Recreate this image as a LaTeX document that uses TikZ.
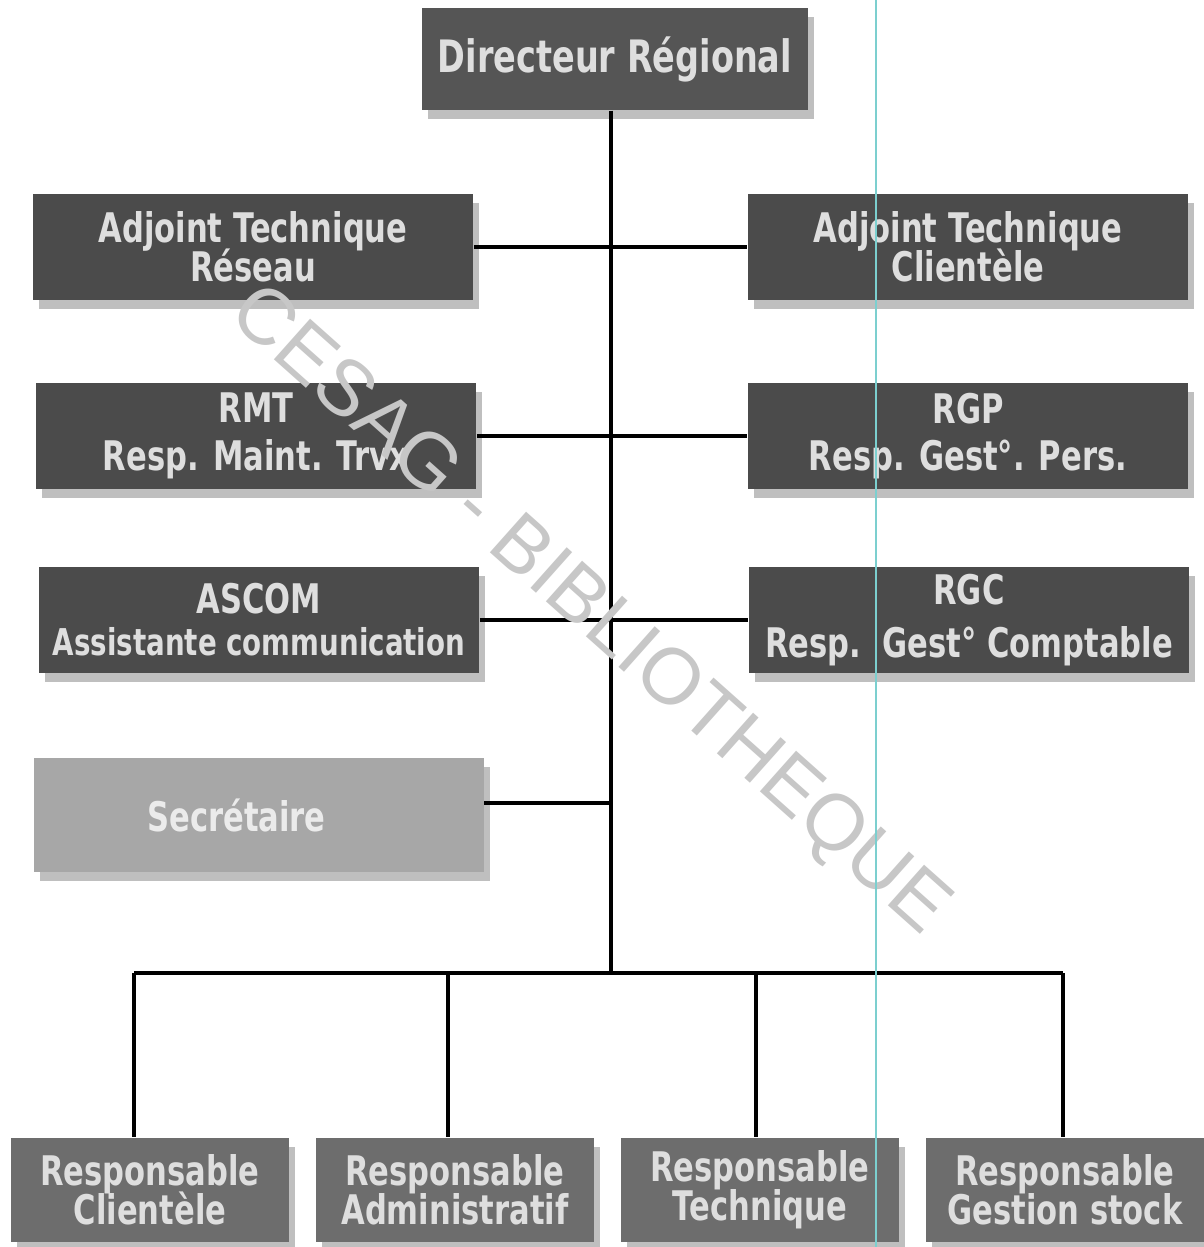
\documentclass[tikz,border=0pt]{standalone}
\usepackage{fontspec}
\usepackage{tikz}
\usetikzlibrary{shadows, calc}
\newfontfamily\boxfont{DejaVu Sans}[FakeStretch=0.75]
\newfontfamily\markfont{Liberation Sans}
\definecolor{boxdark}{HTML}{4B4B4B}
\definecolor{dirgray}{HTML}{555555}
\definecolor{unitgray}{HTML}{6D6D6D}
\definecolor{secgray}{HTML}{A7A7A7}
\definecolor{boxtext}{HTML}{DEDEDE}
\definecolor{scanline}{HTML}{7CCFCF}

\begin{document}
\begin{tikzpicture}[
    x=0.01cm, y=-0.01cm,
    post/.style={rectangle, fill=boxdark, text=boxtext, inner sep=0pt,
                 font=\boxfont\bfseries\fontsize{11.6}{12}\selectfont, align=center,
                 minimum width=4.4cm, minimum height=1.05cm,
                 drop shadow={shadow xshift=0.6mm, shadow yshift=-0.9mm, fill=black!45, opacity=0.55}},
    head/.style={post, fill=dirgray, minimum width=3.85cm, minimum height=1.02cm,
                 font=\boxfont\bfseries\fontsize{12.7}{13}\selectfont},
    aide/.style={post, fill=secgray, text=white!92!black, minimum width=4.49cm, minimum height=1.13cm},
    unit/.style={post, fill=unitgray, minimum width=2.77cm, minimum height=1.04cm},
    link/.style={black, line width=0.9pt},
    watermark/.style={font=\markfont\fontsize{22.5}{24}\selectfont, text=black!22}
]
\fill[white] (0,0) rectangle (1204,1247);
\useasboundingbox (0,0) rectangle (1204,1247);

% Direction
\node[head] at (615,59) (dir) {Directeur Régional};

% Adjoints et responsables
\node[post] at (253,247) (atr) {Adjoint Technique\\[-0.8pt]Réseau};
\node[post] at (968,247) (atc) {Adjoint Technique\\[-0.8pt]Clientèle};
\node[post] at (256,436) (rmt) {RMT\\[1.5pt]Resp. Maint. Trvx};
\node[post] at (968,436) (rgp) {RGP\\[1.5pt]Resp. Gest°. Pers.};
\node[post] at (259,620) (ascom) {ASCOM\\[0pt]{\fontsize{10.5}{11}\selectfont Assistante communication}};
\node[post] at (969,620) (rgc) {RGC\\[3pt]Resp.\ \ Gest° Comptable};
\node[aide] at (259,815) (sec) {Secrétaire\hspace*{0.45cm}};

% Services
\node[unit] at (150,1190) (rcl) {Responsable\\[-1pt]Clientèle};
\node[unit] at (455,1190) (rad) {Responsable\\[-1pt]Administratif};
\node[unit] at (760,1190) (rte) {Responsable\\[-1pt]Technique};
\node[unit] at (1065,1190) (rgs) {Responsable\\[-1pt]Gestion stock};

% Liaisons
\coordinate (bus) at (611,973);
\coordinate (sj) at (611,803);
\coordinate (b1) at (134,973);
\coordinate (b2) at (448,973);
\coordinate (b3) at (756,973);
\coordinate (b4) at (1063,973);

\draw[link] (dir.south -| bus) -- (bus);
\draw[link] (atr) -- (atc);
\draw[link] (rmt) -- (rgp);
\draw[link] (ascom) -- (rgc);
\draw[link] (sec.east |- sj) -- (sj);
\draw[link] (b1) -- (b4);
\foreach \d/\n in {b1/rcl, b2/rad, b3/rte, b4/rgs}
    \draw[link] (\d) -- (\d |- \n.north);

% Filigrane
\node[watermark, rotate=-41.7] at (588,612) (mark) {CESAG - BIBLIOTHEQUE};
\draw[scanline, line width=0.5pt] (876,0) -- (876,1247);

\end{tikzpicture}
\end{document}
